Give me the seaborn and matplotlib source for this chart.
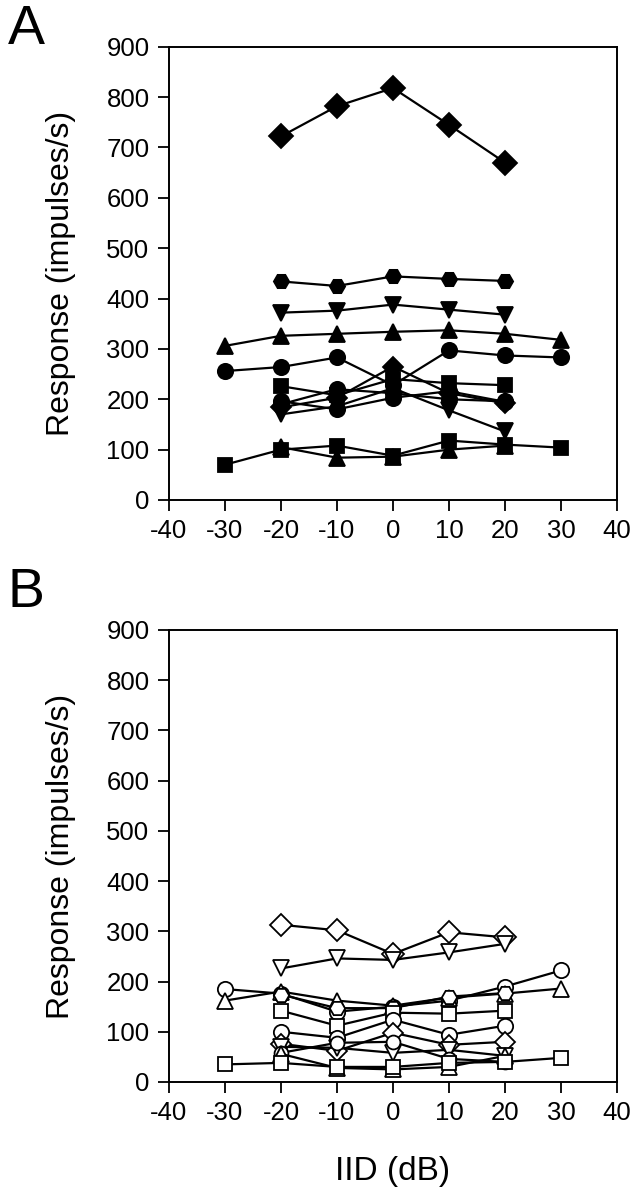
import matplotlib
matplotlib.use("Agg")
import matplotlib.pyplot as plt
import seaborn as sns
import pandas as pd

# ---------------- data ----------------
iid7 = [-30, -20, -10, 0, 10, 20, 30]
iid5 = [-20, -10, 0, 10, 20]

# Panel A (filled markers)
a_diamond_hi = [722, 782, 818, 745, 670]
a_hexagon = [434, 425, 444, 439, 435]
a_down_hi = [372, 376, 388, 378, 368]
a_up_hi = [306, 326, 330, 334, 337, 330, 318]
a_circle_hi = [256, 264, 283, 228, 297, 287, 283]
a_square_mid = [226, 208, 240, 232, 228]
a_circle_mid = [190, 220, 212, 200, 196]
a_diamond_mid = [184, 203, 265, 212, 192]
a_down_mid = [170, 186, 222, 178, 136]
a_circle_low = [196, 180, 203, 216, 195]
a_square_low = [70, 100, 108, 88, 118, 110, 104]
a_up_low = [105, 84, 86, 100, 108]

# Panel B (open markers)
b_diamond_hi = [313, 302, 255, 298, 288]
b_down_hi = [226, 246, 243, 258, 275]
b_circle_hi = [185, 176, 140, 150, 162, 190, 222]
b_up_hi = [162, 180, 162, 152, 168, 176, 186]
b_hexagon = [174, 147, 147, 170, 177]
b_square_mid = [142, 112, 138, 136, 142]
b_circle_mid = [100, 88, 124, 94, 112]
b_diamond_mid = [76, 62, 98, 74, 80]
b_down_low = [70, 68, 58, 64, 52]
b_circle_low = [58, 78, 80, 46, 40]
b_up_low = [56, 28, 25, 30, 52]
b_square_low = [35, 38, 30, 30, 38, 40, 48]

xticks = [-40, -30, -20, -10, 0, 10, 20, 30, 40]
yticks = [0, 100, 200, 300, 400, 500, 600, 700, 800, 900]

panel_a = [
    (iid5, a_diamond_hi, "D", 12),
    (iid5, a_hexagon, "H", 11),
    (iid5, a_down_hi, "v", 11),
    (iid7, a_up_hi, "^", 11),
    (iid7, a_circle_hi, "o", 11),
    (iid5, a_square_mid, "s", 10),
    (iid5, a_circle_mid, "o", 11),
    (iid5, a_diamond_mid, "D", 10),
    (iid5, a_down_mid, "v", 11),
    (iid5, a_circle_low, "o", 11),
    (iid7, a_square_low, "s", 10),
    (iid5, a_up_low, "^", 11),
]
panel_b = [
    (iid5, b_diamond_hi, "D", 11),
    (iid5, b_down_hi, "v", 11),
    (iid7, b_circle_hi, "o", 11),
    (iid7, b_up_hi, "^", 11),
    (iid5, b_hexagon, "H", 11),
    (iid5, b_square_mid, "s", 10),
    (iid5, b_circle_mid, "o", 11),
    (iid5, b_diamond_mid, "D", 10),
    (iid5, b_down_low, "v", 11),
    (iid5, b_circle_low, "o", 10),
    (iid5, b_up_low, "^", 11),
    (iid7, b_square_low, "s", 10),
]

# ---------------- style ----------------
sns.set_theme(style="ticks")
plt.rcParams["font.family"] = ["Liberation Sans", "DejaVu Sans"]

fig = plt.figure(figsize=(6.4, 11.99), dpi=100)
axA = fig.add_axes([0.264, 0.583, 0.700, 0.378])
axB = fig.add_axes([0.264, 0.0976, 0.700, 0.377])


def draw(ax, series, filled):
    for xs, ys, mk, ms in series:
        df = pd.DataFrame({"IID": xs, "resp": ys})
        sns.lineplot(
            data=df, x="IID", y="resp", ax=ax, color="black",
            marker=mk, markersize=ms, linewidth=1.6,
            markerfacecolor="black" if filled else "white",
            markeredgecolor="black", markeredgewidth=1.3,
            legend=False, errorbar=None, sort=False,
        )
    ax.set_xlim(-40, 40)
    ax.set_ylim(0, 900)
    ax.set_xticks(xticks)
    ax.set_yticks(yticks)
    ax.set_xticklabels([str(t) for t in xticks])
    ax.set_yticklabels([str(t) for t in yticks])
    ax.tick_params(direction="out", length=8, width=1.3, labelsize=18.5,
                   color="black", labelcolor="black", pad=6)
    for s in ax.spines.values():
        s.set_visible(True)
        s.set_linewidth(1.4)
        s.set_color("black")
    ax.set_ylabel("Response (impulses/s)", fontsize=23, labelpad=22, color="black")
    ax.set_xlabel("")


draw(axA, panel_a, True)
draw(axB, panel_b, False)
axB.set_xlabel("IID (dB)", fontsize=24, labelpad=22, color="black")

fig.text(0.012, 0.997, "A", fontsize=40, color="black", va="top")
fig.text(0.012, 0.527, "B", fontsize=40, color="black", va="top")

fig.savefig("out.png", dpi=100, facecolor="white")
